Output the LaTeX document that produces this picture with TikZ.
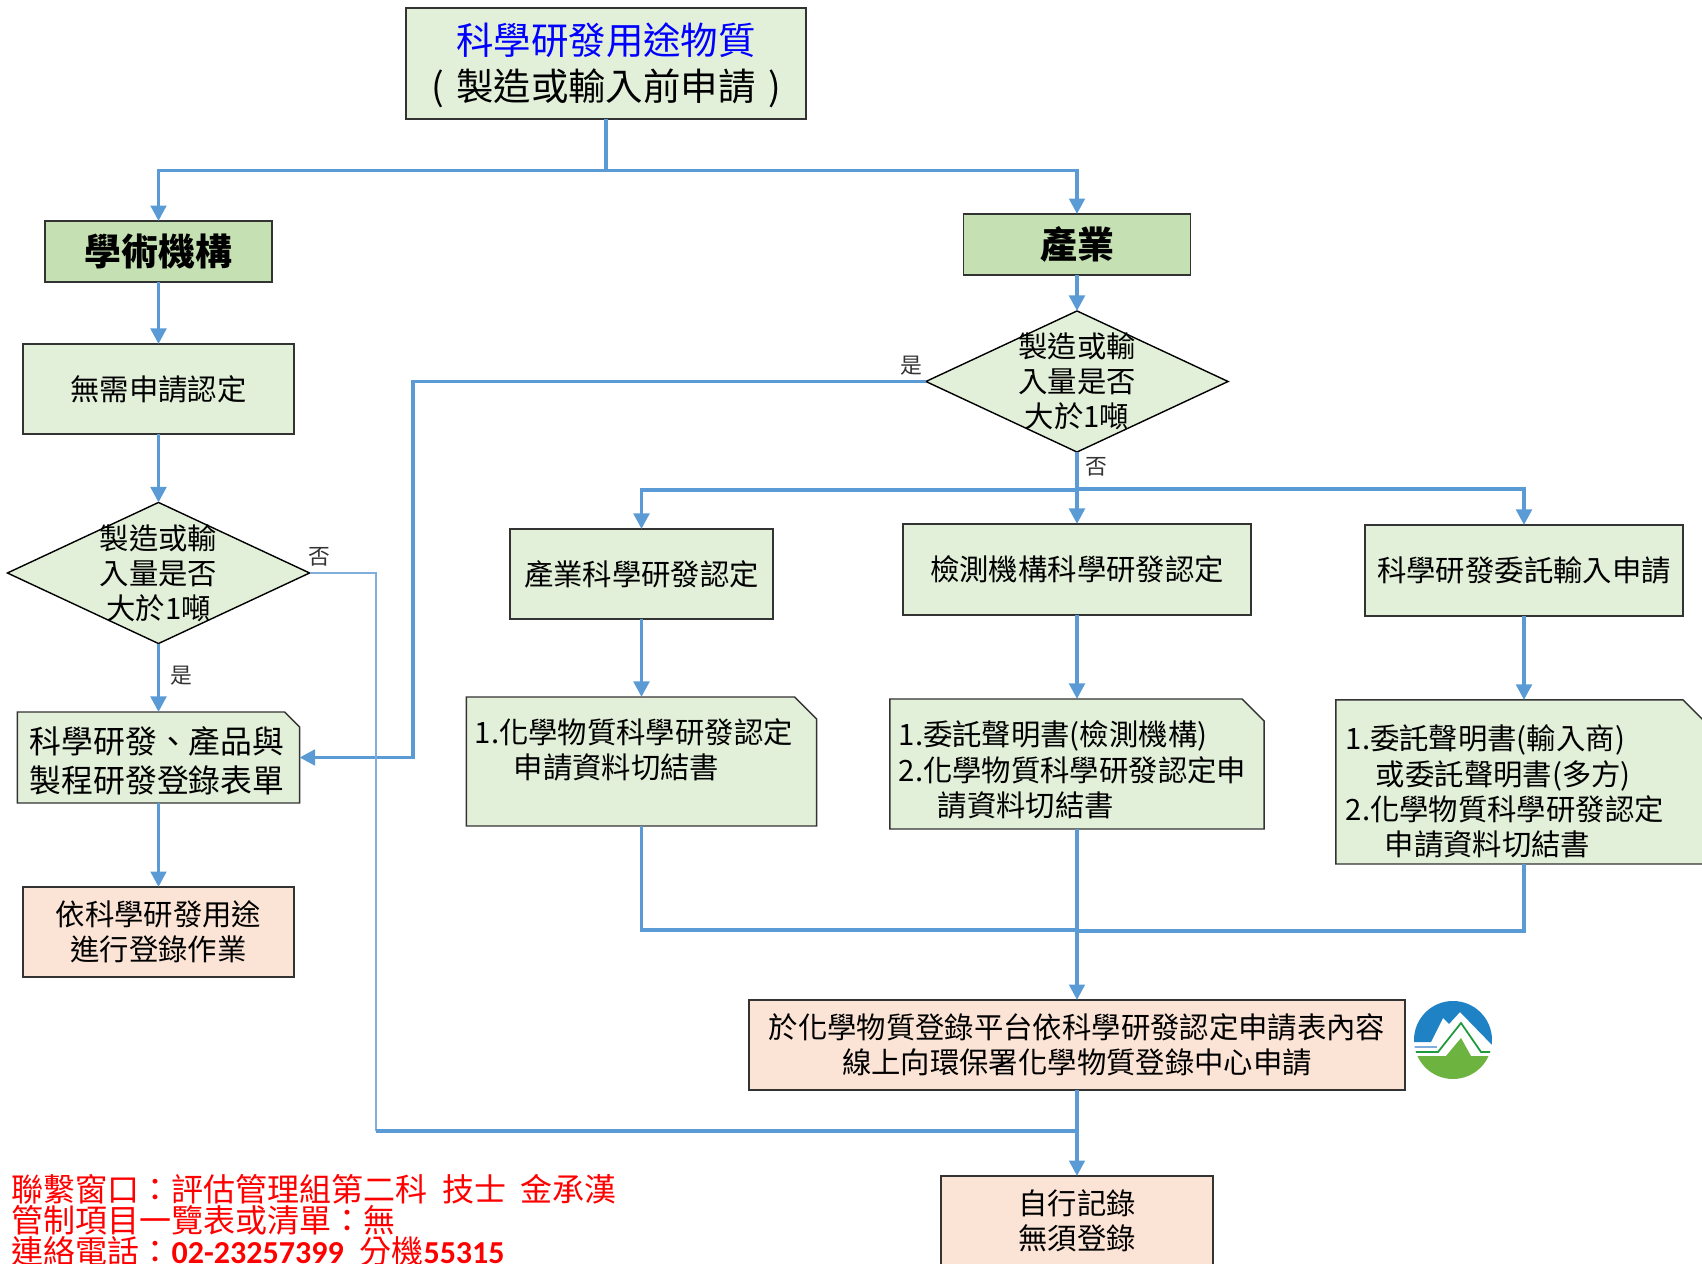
\documentclass[tikz,border=0pt]{standalone}
\usepackage{fontspec}
\setmainfont{Noto Sans CJK TC}
\newfontfamily\digitfont{Carlito}
\usetikzlibrary{arrows.meta,shapes.geometric}
\definecolor{flowblue}{HTML}{5B9BD5}
\definecolor{paleblue}{HTML}{7FAEDC}
\definecolor{palegreen}{HTML}{E2EFD9}
\definecolor{headgreen}{HTML}{C5E0B3}
\definecolor{paleorange}{HTML}{FBE4D5}
\definecolor{edgegray}{HTML}{333333}
\definecolor{logoblue}{HTML}{1E82C4}
\definecolor{logogreen}{HTML}{6DB33F}
\definecolor{logoline}{HTML}{1E9A3C}
\tikzset{
  box/.style={draw=edgegray, line width=0.4pt, inner sep=0pt, outer sep=0pt, align=center, font=\fontsize{8.35}{10}\selectfont},
  greenbox/.style={box, fill=palegreen},
  orangebox/.style={box, fill=paleorange},
  headbox/.style={box, fill=headgreen, minimum width=2.27cm, minimum height=0.61cm, font=\fontsize{10.5}{13}\bfseries\selectfont},
  notebox/.style={inner sep=0pt, outer sep=0pt},
  notetext/.style={anchor=west, inner sep=0pt, align=left, font=\fontsize{8.35}{10}\selectfont},
  decision/.style={diamond, draw=black, line width=0.4pt, fill=palegreen, inner sep=0pt, outer sep=0pt, minimum width=3.02cm, minimum height=1.41cm},
  boxtext/.style={inner sep=0pt, align=center, font=\fontsize{8.35}{10}\selectfont},
  tag/.style={inner sep=0pt, text=edgegray, font=\fontsize{6.2}{7}\selectfont},
  line/.style={draw=flowblue, line width=1pt},
  flow/.style={line, -{Triangle[length=4.4pt,width=4.4pt]}},
  thinline/.style={draw=paleblue, line width=0.45pt}
}
% outline of a named box with its upper right corner cut
\newcommand{\snipbox}[2]{
    \filldraw[fill=palegreen, draw=edgegray, line width=0.4pt] (#1.north west) -- ([xshift=-#2*0.01cm]#1.north east) -- ([yshift=-#2*0.01cm]#1.north east) -- (#1.south east) -- (#1.south west) -- cycle;
}
\begin{document}
\begin{tikzpicture}[x=0.01cm, y=-0.01cm]
    \clip (0,0) rectangle (1702,1264);

    \node[greenbox, minimum width=4cm, minimum height=1.11cm] (top) at (606,63.5) {};
    \node[boxtext, font=\fontsize{10.65}{13}\selectfont] (toptext) at (606,65.5) {\textcolor{blue}{科學研發用途物質}\\(\hspace{3.5pt}製造或輸入前申請\hspace{3.5pt})};
    \node[headbox] (acad) at (158.5,251.5) {學術機構};
    \node[headbox] (ind) at (1077,244.5) {產業};

    % left column
    \node[greenbox, minimum width=2.71cm, minimum height=0.9cm] (noneed) at (158.5,389) {無需申請認定};
    \node[decision] (acaddia) at (158.5,573) {};
    \node[boxtext] (acaddiatext) at (158.5,573) {製造或輸\\入量是否\\大於1噸};
    \node[notebox, minimum width=2.82cm, minimum height=0.91cm] (form) at (158.5,757.5) {};
    \snipbox{form}{15}
    \node[boxtext, font=\fontsize{9.05}{11.1}\selectfont] (formtext) at (157,761) {科學研發、產品與\\製程研發登錄表單};
    \node[orangebox, minimum width=2.71cm, minimum height=0.9cm] (record) at (158.5,932) {依科學研發用途\\進行登錄作業};

    % right side
    \node[decision] (inddia) at (1077,381.5) {};
    \node[boxtext] (inddiatext) at (1077,381.5) {製造或輸\\入量是否\\大於1噸};
    \node[greenbox, minimum width=2.63cm, minimum height=0.9cm] (certa) at (641.5,574) {產業科學研發認定};
    \node[greenbox, minimum width=3.48cm, minimum height=0.91cm] (certb) at (1077,569.5) {檢測機構科學研發認定};
    \node[greenbox, minimum width=3.18cm, minimum height=0.91cm] (certc) at (1524,570.5) {科學研發委託輸入申請};

    \node[notebox, minimum width=3.5cm, minimum height=1.29cm] (notea) at (641.5,761.5) {};
    \snipbox{notea}{22}
    \node[notetext] (noteatext) at (474,750) {1.化學物質科學研發認定\\\hspace*{11.1pt}申請資料切結書};
    \node[notebox, minimum width=3.74cm, minimum height=1.3cm] (noteb) at (1077,764) {};
    \snipbox{noteb}{22}
    \node[notetext] (notebtext) at (898,770) {1.委託聲明書(檢測機構)\\2.化學物質科學研發認定申\\\hspace*{11.1pt}請資料切結書};
    \node[notebox, minimum width=3.76cm, minimum height=1.64cm] (notec) at (1524,782) {};
    \snipbox{notec}{29}
    \node[notetext] (notectext) at (1345,791.5) {1.委託聲明書(輸入商)\\\hspace*{8.6pt}或委託聲明書(多方)\\2.化學物質科學研發認定\\\hspace*{11.1pt}申請資料切結書};

    \node[orangebox, minimum width=6.56cm, minimum height=0.9cm] (submit) at (1077,1045) {於化學物質登錄平台依科學研發認定申請表內容\\線上向環保署化學物質登錄中心申請};
    \node[orangebox, minimum width=2.72cm, minimum height=0.9cm] (self) at (1077,1221) {自行記錄\\無須登錄};

    % connectors
    \coordinate (topjoin) at (606,170.5);
    \coordinate (yesbend) at (413,381.5);
    \coordinate (nobend) at (376,1131);
    \coordinate (nojoin) at (1077,1131);
    \coordinate (branch) at (1077,490);
    \coordinate (branchright) at (1077,489);
    \coordinate (merge) at (1077,930);
    \coordinate (mergeright) at (1077,931);

    \draw[line] (top.south) -- (topjoin);
    \draw[flow] (topjoin) -| (acad.north);
    \draw[flow] (topjoin) -| (ind.north);
    \draw[flow] (acad.south) -- (noneed.north);
    \draw[flow] (noneed.south) -- (acaddia.north);
    \draw[flow] (acaddia.south) -- (form.north);
    \draw[flow] (form.south) -- (record.north);
    \draw[flow] (ind.south) -- (inddia.north);
    \draw[flow] (inddia.west) -- (yesbend) |- (form.east);
    \draw[flow] (inddia.south) -- (certb.north);
    \draw[flow] (branch) -| (certa.north);
    \draw[flow] (branchright) -| (certc.north);
    \draw[flow] (certa.south) -- (notea.north);
    \draw[flow] (certb.south) -- (noteb.north);
    \draw[flow] (certc.south) -- (notec.north);
    \draw[line] (notea.south) |- (merge);
    \draw[line] (notec.south) |- (mergeright);
    \draw[flow] (noteb.south) -- (submit.north);
    \draw[flow] (submit.south) -- (self.north);
    \draw[thinline] (acaddia.east) -| (nobend);
    \draw[line] (nobend) -- (nojoin);

    \node[tag] (yesright) at (911,366) {是};
    \node[tag] (noright) at (1096,467) {否};
    \node[tag] (noleft) at (319,557) {否};
    \node[tag] (yesleft) at (181,676) {是};

    % logo
    \begin{scope}[shift={(1453,1040)}]
        \clip (0,0) circle (39);
        \fill[white] (-40,-40) rectangle (40,40);
        \fill[logoblue] (-40,-40) -- (40,-40) -- (40,6) -- (7,-28) -- (-4,-16) -- (-10,-22) -- (-22,2) -- (-40,2) -- cycle;
        \draw[paleblue, line width=0.4pt] (-40,7) -- (-16,7);
        \draw[logoline, line width=0.5pt] (-40,12) -- (-15,12) -- (8,-17) -- (28,12) -- (40,12);
        \fill[logogreen] (-40,16) -- (-7,16) -- (8,-2) -- (18,16) -- (40,16) -- (40,40) -- (-40,40) -- cycle;
    \end{scope}

    % contact lines
    \node[anchor=north west, inner sep=0pt, align=left, text=red, font=\fontsize{9.1}{8.8}\selectfont] (contact) at (11,1174) {聯繫窗口：評估管理組第二科\hspace{4.15pt}技士\hspace{4.15pt}金承漢\\管制項目一覽表或清單：無\\連絡電話：{\digitfont\bfseries 02-23257399}\hspace{4.5pt}分機{\digitfont\bfseries 55315}};
\end{tikzpicture}
\end{document}
